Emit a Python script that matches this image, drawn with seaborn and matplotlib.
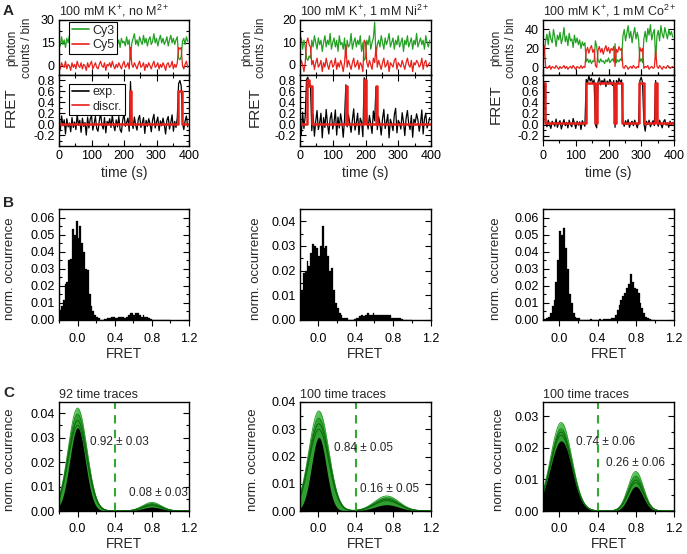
import numpy as np
import pandas as pd
import matplotlib
matplotlib.use('Agg')
import matplotlib.pyplot as plt
import seaborn as sns
from matplotlib.ticker import MultipleLocator, FixedLocator, FormatStrFormatter

sns.set_theme(style='ticks')
plt.rcParams['font.family'] = ['Liberation Sans', 'DejaVu Sans']
plt.rcParams['mathtext.default'] = 'regular'

GREEN = '#22a022'
RED = '#e8201a'

# ---------------- A: single-molecule time traces (one sample every 4 s) ----------------
time_s = np.arange(0, 400, 4)

cy3_noM = [16, 13, 19, 14, 17, 12, 18, 15, 20, 13,
           17, 14, 11, 18, 15, 19, 13, 16, 9, 17,
           14, 18, 12, 16, 20, 15, 13, 17, 14, 19,
           12, 16, 18, 14, 17, 13, 19, 15, 11, 17,
           15, 18, 13, 16, 20, 14, 17, 12, 18, 15,
           16, 13, 19, 14, 17, 4, 15, 18, 21, 14,
           17, 13, 19, 16, 14, 20, 15, 18, 13, 17,
           19, 14, 16, 21, 15, 18, 13, 17, 20, 15,
           18, 14, 16, 19, 13, 17, 20, 15, 18, 14,
           17, 19, 5, 4, 6, 16, 18, 14, 19, 16]
cy5_noM = [1, -2, 2, 0, -1, 3, -2, 1, 0, -3,
           2, -1, 1, -2, 3, 0, -1, 2, -2, 1,
           0, -3, 2, -1, 1, 3, -2, 0, 2, -1,
           -2, 1, 3, 0, -1, 2, -3, 1, 0, 2,
           -1, 3, 0, -2, 1, -1, 2, 0, -2, 1,
           3, -1, 0, 2, -2, 12, 1, -1, 2, 0,
           -2, 1, 3, -1, 0, 2, -3, 1, -1, 2,
           0, -2, 1, 3, -1, 0, 2, -2, 1, -1,
           2, 0, -3, 1, 2, -1, 0, 3, -2, 1,
           -1, 2, 12, 11, 12, 0, -2, 1, 3, -1]
fret_noM = [0.05, -0.12, 0.15, -0.03, 0.08, -0.18, 0.1, -0.05, 0.02, -0.14,
            0.12, -0.06, 0.04, -0.1, 0.18, -0.02, 0.07, -0.15, 0.11, -0.04,
            0.03, -0.2, 0.13, -0.07, 0.09, 0.16, -0.11, 0.01, 0.14, -0.08,
            -0.13, 0.06, 0.2, -0.01, -0.09, 0.12, -0.16, 0.05, 0.0, 0.1,
            -0.06, 0.17, -0.02, -0.12, 0.08, -0.05, 0.14, -0.1, -0.15, 0.07,
            0.19, -0.04, 0.03, 0.11, -0.13, 0.78, 0.06, -0.08, 0.13, -0.02,
            -0.11, 0.09, 0.16, -0.06, 0.02, 0.12, -0.17, 0.07, -0.04, 0.1,
            0.01, -0.14, 0.08, 0.18, -0.07, 0.04, 0.13, -0.12, 0.06, -0.03,
            0.11, -0.01, -0.18, 0.07, 0.14, -0.09, 0.03, 0.17, -0.13, 0.05,
            -0.06, 0.12, 0.74, 0.8, 0.7, 0.02, -0.1, 0.06, 0.15, -0.05]
disc_t_noM = [0, 218, 223, 366, 378, 400]
disc_y_noM = [0.0, 0.6, 0.0, 0.6, 0.0, 0.0]

cy3_Ni = [9, 12, 7, 11, 8, 3, 2, 4, 3, 11,
          8, 13, 10, 7, 12, 9, 11, 6, 10, 13,
          8, 11, 9, 14, 7, 10, 12, 8, 11, 6,
          13, 9, 10, 7, 12, 3, 11, 8, 9, 14,
          7, 10, 12, 8, 11, 9, 13, 6, 10, 2,
          3, 11, 9, 13, 7, 10, 12, 19, 4, 9,
          11, 8, 13, 10, 7, 12, 9, 11, 14, 8,
          10, 12, 7, 11, 9, 13, 8, 10, 12, 6,
          11, 9, 13, 8, 10, 12, 7, 11, 9, 14,
          8, 10, 12, 9, 11, 7, 13, 10, 8, 11]
cy5_Ni = [-1, 2, 0, -3, 1, 10, 12, 9, 8, 0,
          2, -2, 1, 3, -1, 0, 2, -3, 1, -1,
          3, 0, -2, 1, 2, -1, 0, 3, -2, 1,
          -1, 2, 0, -3, 1, 9, -1, 2, 0, -2,
          1, 3, -1, 0, 2, -2, 1, 0, -3, 11,
          10, 1, -1, 2, 0, -2, 3, 1, 8, -1,
          2, 0, -2, 1, 3, -1, 0, 2, -3, 1,
          0, -1, 2, 3, -2, 1, 0, -1, 2, 0,
          -2, 1, 3, 0, -1, 2, -3, 1, 0, 2,
          1, -1, 0, 3, -2, 1, 2, -1, 0, 1]
fret_Ni = [0.1, -0.2, 0.22, -0.08, 0.15, 0.82, 0.86, 0.7, 0.72, -0.12,
           0.18, -0.22, 0.05, 0.25, -0.1, 0.02, 0.2, -0.25, 0.12, -0.06,
           0.27, 0.0, -0.18, 0.1, 0.21, -0.09, 0.04, 0.26, -0.2, 0.13,
           -0.07, 0.19, 0.03, -0.24, 0.09, 0.72, -0.05, 0.17, 0.01, -0.15,
           0.08, 0.28, -0.11, 0.02, 0.2, -0.19, 0.11, 0.04, -0.23, 0.85,
           0.8, 0.07, -0.09, 0.16, 0.0, -0.17, 0.24, 0.06, 0.68, -0.1,
           0.14, 0.01, -0.2, 0.1, 0.27, -0.08, 0.03, 0.18, -0.25, 0.09,
           0.0, -0.12, 0.17, 0.29, -0.16, 0.07, 0.02, -0.09, 0.21, 0.04,
           -0.21, 0.11, 0.25, 0.0, -0.1, 0.16, -0.24, 0.09, 0.03, 0.19,
           0.08, -0.13, 0.02, 0.26, -0.18, 0.1, 0.2, -0.07, 0.01, 0.12]
disc_t_Ni = [0, 20, 27, 37, 140, 144, 194, 202, 232, 236, 400]
disc_y_Ni = [0.0, 0.8, 0.7, 0.0, 0.7, 0.0, 0.8, 0.0, 0.7, 0.0, 0.0]

cy3_Co = [8, 15,
          28, 35, 24, 38, 30, 26, 40, 32, 22, 34, 29, 37, 25, 31, 42, 27,
          33, 23, 36, 28, 30, 21, 34, 26, 31, 24, 29, 20, 27, 23, 26,
          6, 9, 5, 8, 4, 7, 6,
          28, 22,
          8, 5, 9, 6, 7, 4, 8, 6, 10, 5, 7, 9, 6,
          25,
          5, 8, 6, 9, 7,
          33, 40, 28, 36, 44, 31, 38, 26, 35, 42, 30, 37, 29,
          6, 9, 5,
          30, 38, 27, 41, 34, 45, 29, 36, 40,
          8,
          33, 39, 28, 44, 35, 31, 42, 36, 30, 40, 34, 38, 32]
cy5_Co = [25, 22,
          1, -1, 0, 2, -2, 1, 0, -1, 2, 0, -2, 1, -1, 0, 2, -1,
          1, -2, 0, 1, -1, 2, 0, -2, 1, 0, -1, 2, -1, 1, 0,
          17, 21, 15, 20, 23, 16, 19,
          2, 0,
          18, 22, 16, 20, 14, 19, 23, 17, 21, 15, 20, 18, 22,
          1,
          19, 16, 22, 18, 20,
          0, -1, 2, 1, -2, 0, 1, -1, 2, 0, -1, 1, 0,
          21, 17, 20,
          -1, 1, 0, 2, -2, 0, 1, -1, 0,
          18,
          1, -1, 2, 0, -2, 1, 0, -1, 2, 1, -1, 0, 1]
fret_Co = [0.78, 0.72,
           0.05, -0.04, 0.08, 0.0, -0.07, 0.06, 0.02, -0.03, 0.1, -0.05, 0.03,
           0.07, -0.08, 0.01, 0.09, -0.02, 0.04, -0.06, 0.08, 0.0, -0.04, 0.11,
           0.03, -0.07, 0.06, -0.01, 0.05, -0.09, 0.07, 0.02, -0.03,
           0.82, 0.76, 0.88, 0.79, 0.84, 0.74, 0.81,
           0.0, -0.06,
           0.78, 0.85, 0.72, 0.8, 0.76, 0.83, 0.69, 0.79, 0.74, 0.82, 0.77, 0.71, 0.8,
           -0.05,
           0.8, 0.74, 0.84, 0.77, 0.81,
           0.04, -0.03, 0.07, 0.0, 0.09, -0.05, 0.03, 0.06, -0.02, 0.08, 0.01, -0.06, 0.05,
           0.8, 0.86, 0.76,
           0.03, -0.12, 0.06, 0.0, 0.08, -0.04, 0.02, 0.07, -0.02,
           0.8,
           0.04, -0.03, 0.08, 0.01, -0.06, 0.05, 0.09, -0.01, 0.03, -0.05, 0.06, 0.0, 0.04]
disc_t_Co = [0, 6, 130, 158, 166, 218, 224, 242, 294, 307, 342, 348, 400]
disc_y_Co = [0.75, 0.02, 0.75, 0.02, 0.75, 0.02, 0.75, 0.02, 0.75, 0.02, 0.75, 0.02, 0.02]

a_titles = ['100 mM K$^{+}$, no M$^{2+}$', '100 mM K$^{+}$, 1 mM Ni$^{2+}$',
            '100 mM K$^{+}$, 1 mM Co$^{2+}$']

# ---------------- B: FRET histograms, 0.02 bins from -0.2 to 1.0 ----------------
hist_centers = np.round(np.arange(-0.19, 1.0, 0.02), 2)
hist_noM = [0.006, 0.008, 0.012, 0.021, 0.022, 0.035, 0.036, 0.053, 0.050, 0.058,
            0.048, 0.055, 0.045, 0.040, 0.030, 0.029, 0.015, 0.008, 0.005, 0.003,
            0.002, 0.001, 0.0, 0.0, 0.0005, 0.0005, 0.001, 0.001, 0.0015, 0.0015,
            0.001, 0.001, 0.0015, 0.002, 0.0015, 0.001, 0.002, 0.003, 0.004, 0.004,
            0.003, 0.004, 0.004, 0.003, 0.002, 0.003, 0.002, 0.002, 0.001, 0.0005,
            0, 0, 0, 0, 0, 0, 0, 0, 0, 0]
hist_Ni = [0.010, 0.012, 0.019, 0.020, 0.024, 0.022, 0.027, 0.031, 0.030, 0.029,
           0.026, 0.030, 0.038, 0.029, 0.030, 0.026, 0.020, 0.021, 0.012, 0.007,
           0.005, 0.003, 0.002, 0.001, 0.001, 0.001, 0.0, 0.0, 0.0, 0.0005,
           0.001, 0.001, 0.0015, 0.002, 0.0015, 0.002, 0.003, 0.002, 0.002, 0.003,
           0.002, 0.002, 0.002, 0.002, 0.002, 0.002, 0.002, 0.002, 0.002, 0.001,
           0.001, 0.001, 0.001, 0.001, 0.0005, 0, 0, 0, 0, 0]
hist_Co = [0, 0, 0.0005, 0.001, 0.002, 0.004, 0.008, 0.012, 0.022, 0.035,
           0.052, 0.050, 0.054, 0.042, 0.030, 0.015, 0.010, 0.004, 0.002, 0.001,
           0.001, 0, 0, 0, 0, 0, 0.0005, 0, 0, 0,
           0, 0.0005, 0, 0.0005, 0.0005, 0.0005, 0.0005, 0.001, 0.001, 0.003,
           0.006, 0.009, 0.012, 0.014, 0.016, 0.019, 0.021, 0.027, 0.022, 0.019,
           0.018, 0.016, 0.010, 0.007, 0.004, 0.002, 0.001, 0.0005, 0, 0]

# ---------------- C: summed histograms (black) and two-Gaussian fits (green) ----------------
c_titles = ['92 time traces', '100 time traces', '100 time traces']
# black: amplitude, centre, width of the two populations
blk_amp = [[0.034, 0.0016], [0.027, 0.0023], [0.0222, 0.0078]]
blk_mu = [[0.0, 0.8], [0.01, 0.73], [0.02, 0.8]]
blk_sd = [[0.084, 0.1], [0.078, 0.13], [0.115, 0.075]]
# fitted Gaussians: outer bound first, then inner fits
fit_mu = [[0.0, 0.8], [0.01, 0.73], [0.02, 0.8]]
fit_sd = [[0.1, 0.1], [0.105, 0.13], [0.11, 0.08]]
fit_amp = [[[0.042, 0.0035], [0.0395, 0.003], [0.037, 0.0026], [0.035, 0.0022]],
           [[0.0367, 0.0055], [0.034, 0.0048], [0.032, 0.0043], [0.030, 0.0038]],
           [[0.028, 0.0125], [0.026, 0.011], [0.025, 0.0098], [0.024, 0.009]]]
frac_low = ['0.92 ± 0.03', '0.84 ± 0.05', '0.74 ± 0.06']
frac_high = ['0.08 ± 0.03', '0.16 ± 0.05', '0.26 ± 0.06']
frac_low_xy = [(0.13, 0.028), (0.17, 0.0232), (0.17, 0.0219)]
frac_high_xy = [(0.55, 0.0074), (0.45, 0.0082), (0.49, 0.0151)]

W, H = 687, 554
fig = plt.figure(figsize=(W / 100, H / 100), dpi=100)


def rect(x0, x1, y0, y1):
    return [x0 / W, 1 - y1 / H, (x1 - x0) / W, (y1 - y0) / H]


def style(ax, xdir='in'):
    ax.set_facecolor('white')
    for s in ax.spines.values():
        s.set_linewidth(1.0)
        s.set_color('black')
    ax.tick_params(which='both', direction='in', left=True, right=True, top=False,
                   bottom=True, colors='black', labelsize=9, width=0.8)
    ax.tick_params(axis='x', which='both', direction=xdir)
    ax.tick_params(which='major', length=4, pad=3)
    ax.tick_params(which='minor', length=2)


cols_x = [(59, 189), (300, 431), (543, 674)]
a_bottom = [146, 146, 140]
photon_lim = [(-6, 30), (-4.5, 20), (-8, 50)]
photon_step = [15, 10, 20]
fret_lim = [(-0.4, 0.9), (-0.4, 0.9), (-0.28, 0.9)]
traces = [(cy3_noM, cy5_noM, fret_noM, disc_t_noM, disc_y_noM),
          (cy3_Ni, cy5_Ni, fret_Ni, disc_t_Ni, disc_y_Ni),
          (cy3_Co, cy5_Co, fret_Co, disc_t_Co, disc_y_Co)]
ylab_photon_x = [-0.2, -0.25, -0.2]
ylab_fret_x = [-0.32, -0.29, -0.31]


def trace_legend(ax, top):
    leg = ax.legend(loc='upper left', bbox_to_anchor=(0.077, top), fontsize=9,
                    frameon=True, fancybox=False, edgecolor='black', framealpha=1,
                    handlelength=1.4, borderpad=0.2, labelspacing=0.2,
                    handletextpad=0.3, borderaxespad=0)
    leg.get_frame().set_linewidth(0.8)
    for line in leg.get_lines():
        line.set_linewidth(1.2)


for j, (x0, x1) in enumerate(cols_x):
    cy3, cy5, fret, dt, dy = traces[j]
    df = pd.DataFrame({'time': time_s, 'Cy3': cy3, 'Cy5': cy5, 'FRET': fret})

    ax_t = fig.add_axes(rect(x0, x1, 20, 75))
    sns.lineplot(data=df, x='time', y='Cy3', color=GREEN, lw=0.9, ax=ax_t, label='Cy3')
    sns.lineplot(data=df, x='time', y='Cy5', color=RED, lw=0.9, ax=ax_t, label='Cy5')
    ax_t.set_xlim(0, 400)
    ax_t.set_ylim(*photon_lim[j])
    ax_t.yaxis.set_major_locator(MultipleLocator(photon_step[j]))
    ax_t.yaxis.set_minor_locator(MultipleLocator(photon_step[j] / 2))
    ax_t.xaxis.set_major_locator(MultipleLocator(100))
    ax_t.xaxis.set_minor_locator(MultipleLocator(50))
    style(ax_t)
    ax_t.tick_params(labelbottom=False)
    ax_t.set_xlabel('')
    ax_t.set_ylabel('photon\ncounts / bin', fontsize=8.5, linespacing=1.25)
    ax_t.yaxis.set_label_coords(ylab_photon_x[j], 0.5)
    ax_t.set_title(a_titles[j], loc='left', fontsize=9, pad=3)

    ax_b = fig.add_axes(rect(x0, x1, 75, a_bottom[j]))
    sns.lineplot(data=df, x='time', y='FRET', color='black', lw=0.9, ax=ax_b, label='exp.')
    disc = pd.DataFrame({'time': dt, 'level': dy})
    sns.lineplot(data=disc, x='time', y='level', color=RED, lw=1.8, drawstyle='steps-post',
                 ax=ax_b, label='discr.')
    ax_b.set_xlim(0, 400)
    ax_b.set_ylim(*fret_lim[j])
    ax_b.yaxis.set_major_locator(FixedLocator([-0.2, 0.0, 0.2, 0.4, 0.6, 0.8]))
    ax_b.yaxis.set_minor_locator(MultipleLocator(0.1))
    ax_b.yaxis.set_major_formatter(FormatStrFormatter('%.1f'))
    ax_b.xaxis.set_major_locator(MultipleLocator(100))
    ax_b.xaxis.set_minor_locator(MultipleLocator(50))
    style(ax_b, 'out' if j == 2 else 'in')
    ax_b.tick_params(axis='x', which='both', top=True)
    ax_b.set_xlabel('time (s)', fontsize=10)
    ax_b.xaxis.set_label_coords(0.5, -0.28 if j < 2 else -0.4)
    ax_b.set_ylabel('FRET', fontsize=11)
    ax_b.yaxis.set_label_coords(ylab_fret_x[j], 0.55)

    for ax in (ax_t, ax_b):
        if ax.get_legend() is not None:
            ax.get_legend().remove()
    if j == 0:
        trace_legend(ax_t, 0.96)
        trace_legend(ax_b, 0.88)

# ---------------- B ----------------
b_hists = [hist_noM, hist_Ni, hist_Co]
b_ylim = [0.065, 0.045, 0.065]
x_lo = [-0.2, -0.19, -0.17]
b_ylab_x = [-0.33, -0.29, -0.315]
for j, (x0, x1) in enumerate(cols_x):
    ax = fig.add_axes(rect(x0, x1, 209, 320))
    hdf = pd.DataFrame({'FRET': hist_centers, 'occ': b_hists[j]})
    sns.histplot(data=hdf, x='FRET', weights='occ', binwidth=0.02, binrange=(-0.2, 1.0),
                 color='black', alpha=1, edgecolor='black', linewidth=0.2, ax=ax)
    ax.set_xlim(x_lo[j], 1.2)
    ax.set_ylim(0, b_ylim[j])
    ax.xaxis.set_major_locator(MultipleLocator(0.4))
    ax.xaxis.set_minor_locator(MultipleLocator(0.2))
    ax.xaxis.set_major_formatter(FormatStrFormatter('%.1f'))
    ax.yaxis.set_major_locator(MultipleLocator(0.01))
    ax.yaxis.set_minor_locator(MultipleLocator(0.005))
    ax.yaxis.set_major_formatter(FormatStrFormatter('%.2f'))
    style(ax, 'out')
    ax.tick_params(axis='x', which='major', pad=5)
    ax.set_xlabel('FRET', fontsize=10)
    ax.xaxis.set_label_coords(0.5, -0.24)
    ax.set_ylabel('norm. occurrence', fontsize=9.5)
    ax.yaxis.set_label_coords(b_ylab_x[j], 0.46)

# ---------------- C ----------------
xg = np.linspace(-0.2, 1.2, 351)
c_ylim = [0.0445, 0.04, 0.0345]
c_ylab_x = [-0.33, -0.31, -0.29]
shades = ['#55c255', '#30a030', '#17801a', '#0d680d']


def two_gauss(amps, mus, sds):
    return sum(a * np.exp(-(xg - m) ** 2 / (2 * s ** 2)) for a, m, s in zip(amps, mus, sds))


for j, (x0, x1) in enumerate(cols_x):
    ax = fig.add_axes(rect(x0, x1, 402, 511))
    fits = [two_gauss(a, fit_mu[j], fit_sd[j]) for a in fit_amp[j]]
    ax.fill_between(xg, 0, fits[0], color=shades[0], lw=0)
    ax.fill_between(xg, 0, fits[1], color=shades[1], lw=0)
    for k, f in enumerate(fits):
        sns.lineplot(x=xg, y=f, color=shades[min(k + 1, 3)], lw=0.7, ax=ax)
    blk = two_gauss(blk_amp[j], blk_mu[j], blk_sd[j])
    ax.fill_between(xg, 0, blk, color='black', lw=0)
    ax.axvline(0.4, color='#33a833', lw=1.5, ls=(0, (4, 3)))
    ax.text(*frac_low_xy[j], frac_low[j], fontsize=8.5, va='center', ha='left')
    ax.text(*frac_high_xy[j], frac_high[j], fontsize=8.5, va='center', ha='left')
    ax.set_xlim(x_lo[j], 1.2)
    ax.set_ylim(0, c_ylim[j])
    ax.xaxis.set_major_locator(MultipleLocator(0.4))
    ax.xaxis.set_minor_locator(MultipleLocator(0.2))
    ax.xaxis.set_major_formatter(FormatStrFormatter('%.1f'))
    ax.yaxis.set_major_locator(MultipleLocator(0.01))
    ax.yaxis.set_minor_locator(MultipleLocator(0.005))
    ax.yaxis.set_major_formatter(FormatStrFormatter('%.2f'))
    style(ax, 'out')
    ax.tick_params(axis='x', which='major', pad=5)
    ax.set_title(c_titles[j], loc='left', fontsize=9, pad=3)
    ax.set_xlabel('FRET', fontsize=10)
    ax.xaxis.set_label_coords(0.5, -0.24)
    ax.set_ylabel('norm. occurrence', fontsize=9.5)
    ax.yaxis.set_label_coords(c_ylab_x[j], 0.47)

for letter, y in (('A', 4), ('B', 196), ('C', 386)):
    fig.text(3 / W, 1 - y / H, letter, fontsize=11, fontweight='bold', va='top', ha='left')

fig.savefig('out.png', dpi=100)
